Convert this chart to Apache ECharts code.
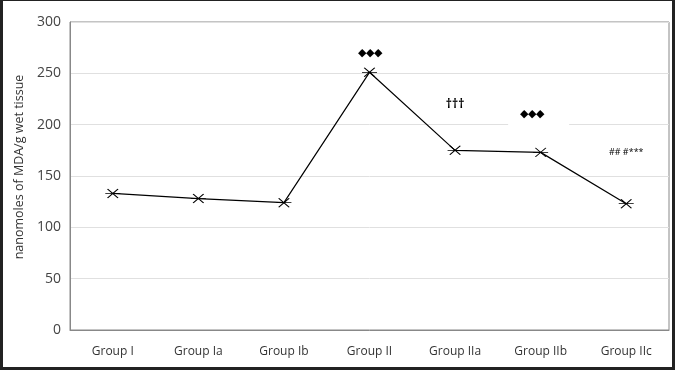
<!DOCTYPE html>
<html>
<head>
<meta charset="utf-8">
<script src="https://cdn.jsdelivr.net/npm/echarts@6/dist/echarts.min.js"></script>
<style>
html, body { margin: 0; padding: 0; background: #fff; }
#chart { width: 675px; height: 370px; box-sizing: border-box; border: 3px solid #222; border-top-width: 1px; }
</style>
</head>
<body>
<div id="chart"></div>
<script>
// groups and MDA values
var groups = ['Group I', 'Group Ia', 'Group Ib', 'Group II', 'Group IIa', 'Group IIb', 'Group IIc'];
var mdaValues = [133, 128, 124, 251, 175, 173, 123];
var yTicks = [0, 50, 100, 150, 200, 250, 300];

// significance marks: group, height, text
var markGroups = ['Group II', 'Group IIa', 'Group IIb', 'Group IIc'];
var markHeights = [270, 220, 211, 173];
var markTexts = ['◆◆◆', '†††', '◆◆◆', '## #***'];

var chart = echarts.init(document.getElementById('chart'));

var marks = [];
for (var i = 0; i < markGroups.length; i++) {
    marks.push({
        coord: [markGroups[i], markHeights[i]],
        label: {
            formatter: markTexts[i],
            backgroundColor: i == 2 ? '#fff' : 'transparent',
            padding: i == 2 ? [4, 25, 14, 12] : 0,
            offset: i == 2 ? [-2, 0] : [0, 0],
            fontSize: i == 3 ? 9 : (i == 1 ? 12 : 11),
            fontWeight: i == 1 ? 'bold' : 'normal',
            letterSpacing: i == 0 ? 1 : 0
        }
    });
}

var option = {
    animation: false,
    textStyle: { fontFamily: 'Open Sans' },
    grid: {
        left: 67, right: 3, top: 21, bottom: 37,
        show: true, borderColor: '#888', borderWidth: 1
    },
    xAxis: {
        type: 'category',
        data: groups,
        axisLine: { lineStyle: { color: '#888' } },
        axisTick: { show: false },
        axisLabel: { color: '#333', fontSize: 12, margin: 16 }
    },
    yAxis: {
        type: 'value',
        min: yTicks[0],
        max: yTicks[yTicks.length - 1],
        interval: 50,
        name: 'nanomoles of MDA/g wet tissue',
        nameLocation: 'middle',
        nameGap: 44,
        nameTextStyle: { color: '#333', fontSize: 12.5, padding: [0, 0, 0, 18] },
        axisLine: { show: true, lineStyle: { color: '#888' } },
        axisTick: { show: false },
        axisLabel: { color: '#444', fontSize: 14, margin: 9 },
        splitLine: { lineStyle: { color: '#e0e0e0' } }
    },
    series: [{
        type: 'line',
        data: mdaValues,
        symbol: 'path://M0,0L14,10M14,0L0,10M-3,5L17,5',
        symbolSize: [15, 9],
        showAllSymbol: true,
        itemStyle: { color: '#000', borderColor: '#000', borderWidth: 1 },
        lineStyle: { color: '#000', width: 1.2 },
        markPoint: {
            symbol: 'rect',
            symbolSize: 0,
            label: { show: true, position: 'inside', color: '#000' },
            data: marks
        }
    }]
};
chart.setOption(option);
</script>
</body>
</html>
